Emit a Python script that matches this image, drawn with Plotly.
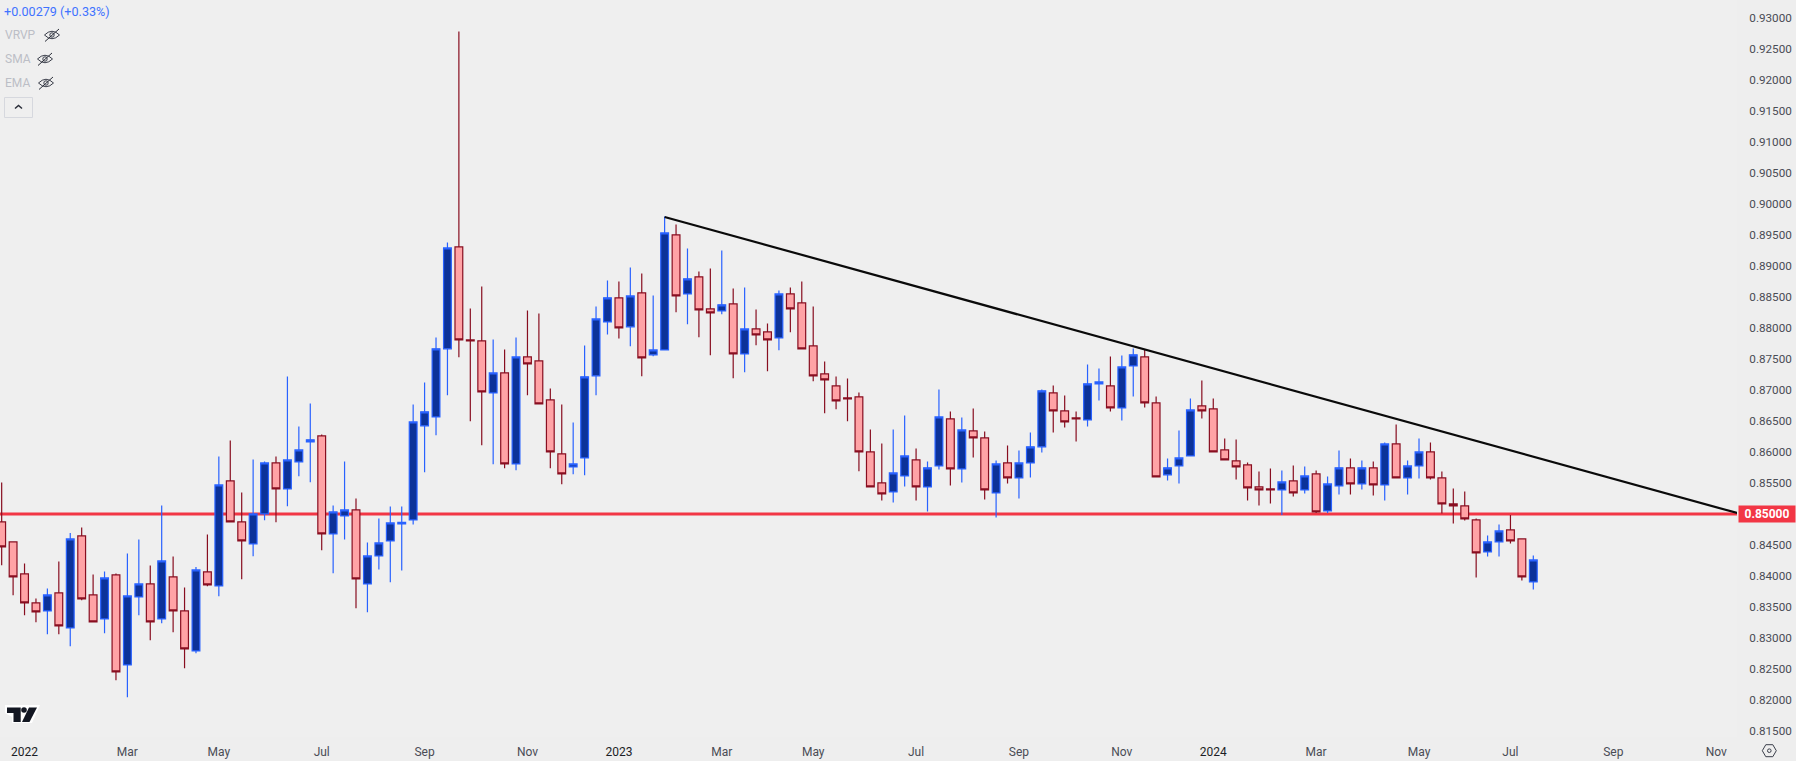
import pandas as pd
import plotly.graph_objects as go

first_date = "2021-12-20"
opens = [.84871,.84548,.84031,.83563,.83434,.83725,.8316,.84645,.83692,.83305,.84015,.82562,.8366,.8387,.83305,.83983,.83434,.82788,.84064,.83838,
.85533,.84871,.84516,.85,.85823,.85404,.85839,.86162,.86259,.84677,.84968,.85065,.8387,.84322,.84564,.84839,.84903,.86421,.86566,.87664,
.8931,.87809,.87793,.86953,.87276,.85807,.87534,.8747,.8684,.85969,.85759,.85904,.87228,.88099,.88487,.88019,.88568,.87567,.87647,.89504,
.88551,.88826,.88309,.88277,.8839,.87583,.87986,.87938,.87841,.88551,.88406,.87712,.8726,.87066,.86873,.86889,.86001,.855,.85355,.85613,
.85872,.85436,.85775,.86534,.85726,.8634,.86227,.85339,.85823,.85581,.85823,.86082,.86953,.86663,.8655,.86517,.87099,.87066,.86711,.87389,
.87534,.86792,.8563,.85775,.85936,.86743,.86695,.86033,.85856,.85791,.85436,.85404,.85387,.85533,.85387,.85646,.85048,.85452,.85743,.85484,
.85743,.85468,.8613,.85581,.85775,.86001,.85581,.85161,.85129,.84903,.84387,.84548,.84742,.84596,.83902]
highs = [.85506,.84548,.84198,.83633,.83795,.84231,.84693,.84779,.84021,.84069,.84037,.8436,.84586,.84166,.85135,.84311,.83811,.84144,.84666,.85926,
.86184,.85344,.85877,.85845,.85926,.87217,.8641,.86781,.86281,.85135,.85845,.85248,.84537,.84925,.85118,.85118,.86765,.8712,.87847,.8938,
.92786,.88315,.8867,.87814,.87653,.87847,.88282,.88234,.87023,.86765,.86474,.87717,.88347,.88767,.88751,.88977,.8888,.88525,.898,.89671,
.89283,.88912,.8896,.89251,.88638,.88654,.88299,.88073,.88605,.88654,.88751,.88347,.87459,.87217,.87185,.86959,.86361,.86135,.86361,.86587,
.86055,.85845,.87007,.86652,.86555,.867,.86329,.85861,.86103,.86022,.86313,.87007,.87072,.8691,.86652,.87411,.87346,.8754,.87556,.87669,
.87653,.86894,.85893,.86345,.86862,.87152,.86862,.86216,.862,.85829,.85683,.85732,.857,.8578,.85764,.857,.85603,.86022,.85893,.85861,
.85845,.86152,.86442,.85861,.86216,.86152,.85683,.85409,.85361,.84925,.8465,.84828,.84984,.84596,.84327]
lows = [.84171,.83687,.83364,.83251,.83057,.83057,.82864,.83606,.83257,.83074,.82315,.8204,.83364,.82961,.83235,.8309,.82509,.82751,.83832,.83671,
.84871,.83945,.84317,.84898,.84865,.85124,.85608,.85511,.84413,.84042,.84586,.83477,.83413,.84101,.83897,.84085,.84828,.85673,.8627,.86916,
.87529,.86496,.86108,.85802,.85737,.85705,.86916,.86776,.85737,.85479,.8564,.85624,.86916,.87895,.8783,.87707,.87222,.87545,.87647,.88256,
.88062,.87852,.87561,.88223,.8719,.87287,.87723,.87303,.87642,.87933,.87664,.87142,.86625,.8669,.86496,.85689,.85436,.85215,.85183,.85441,
.85215,.85038,.85716,.85457,.85506,.85909,.85231,.84941,.8549,.85248,.85587,.8599,.86313,.86394,.86168,.8641,.8683,.86652,.86507,.86894,
.86717,.85597,.85538,.8549,.85936,.86539,.86001,.85872,.85554,.85215,.85135,.85167,.84984,.8528,.85328,.85016,.85016,.85312,.85312,.85393,
.85296,.85215,.85581,.85312,.8557,.85554,.85005,.84844,.84892,.83972,.84311,.84311,.84521,.83924,.83778]
closes = [.84467,.83983,.83563,.83418,.83692,.83192,.84596,.83628,.83257,.83967,.82449,.83676,.8387,.83257,.84241,.83434,.82821,.84096,.83854,.85468,
.84871,.84564,.85,.85823,.85404,.85872,.86033,.86195,.84677,.85032,.85065,.83951,.84322,.84532,.84855,.84865,.86485,.86647,.87664,.89294,
.87809,.87793,.86969,.87276,.85807,.87534,.87421,.86776,.86001,.85646,.85807,.87212,.88148,.88487,.88003,.88519,.87518,.87647,.89536,.88519,
.88794,.88293,.88245,.88374,.87583,.87986,.8789,.87809,.88551,.88309,.87664,.87228,.87163,.86824,.86856,.86001,.85436,.85323,.85662,.85936,
.85436,.85743,.86566,.85726,.86356,.86227,.85387,.85807,.85581,.85823,.86082,.86986,.86663,.86485,.86534,.87099,.87131,.86711,.87373,.87567,
.86792,.85597,.85743,.85904,.86679,.86663,.86001,.85872,.85759,.8542,.85387,.85387,.85517,.85339,.85613,.85032,.85484,.85743,.85484,.85743,
.85468,.8613,.85581,.85775,.86001,.85581,.85161,.85129,.84919,.8437,.84548,.84726,.84564,.83983,.84257]

support_level = [0.85]
trend_dates = ["2023-01-30", "2024-11-18"]
trend_prices = [0.89793, 0.85006]

y_ticks = [0.815, 0.82, 0.825, 0.83, 0.835, 0.84, 0.845, 0.855, 0.86, 0.865, 0.87, 0.875, 0.88, 0.885,
           0.89, 0.895, 0.9, 0.905, 0.91, 0.915, 0.92, 0.925, 0.93]
y_labels = [f"{v:.5f}" for v in y_ticks]
x_ticks = ["2022-01-03", "2022-03-07", "2022-05-02", "2022-07-04", "2022-09-05", "2022-11-07",
           "2023-01-02", "2023-03-06", "2023-05-01", "2023-07-03", "2023-09-04", "2023-11-06",
           "2024-01-01", "2024-03-04", "2024-05-06", "2024-07-01", "2024-09-02", "2024-11-04"]
x_labels = ["2022", "Mar", "May", "Jul", "Sep", "Nov", "2023", "Mar", "May", "Jul", "Sep", "Nov",
            "2024", "Mar", "May", "Jul", "Sep", "Nov"]
legend_labels = ["VRVP", "SMA", "EMA"]
change_text = "+0.00279 (+0.33%)"

W, H = 1796, 761
PW, PH = 1737, 737
FONT = "Roboto"

dates = pd.date_range(first_date, periods=len(opens), freq="7D")
week = pd.Timedelta(days=7)
x0 = dates[0] - 0.146 * week
x1 = dates[0] + 151.82 * week


def px(x):
    return x / PW


def py(y):
    return 1 - y / PH


def P(cmds):
    out = []
    for c in cmds:
        out.append(c[0] + " ".join(f"{px(c[i]):.6f},{py(c[i+1]):.6f}" for i in range(1, len(c), 2)))
    return " ".join(out)


shapes = []


def add_path(cmds, fill=None, line=None, width=1):
    shapes.append(dict(type="path", xref="paper", yref="paper", layer="above", path=P(cmds),
                       fillcolor=fill or "rgba(0,0,0,0)", line=dict(color=line or "rgba(0,0,0,0)", width=width)))


def add_circle(cx, cy, r, fill=None, line=None, width=1):
    shapes.append(dict(type="circle", xref="paper", yref="paper", layer="above",
                       x0=px(cx - r), x1=px(cx + r), y0=py(cy - r), y1=py(cy + r),
                       fillcolor=fill or "rgba(0,0,0,0)", line=dict(color=line or "rgba(0,0,0,0)", width=width)))


def eye(cx, cy):
    add_path([("M", cx - 7.5, cy), ("Q", cx, cy - 7.5, cx + 7.5, cy), ("Q", cx, cy + 7.5, cx - 7.5, cy), ("Z",)],
             line="#3a3e4a", width=1)
    add_circle(cx, cy, 2.2, line="#3a3e4a", width=1)
    add_path([("M", cx - 7, cy + 6.5), ("L", cx + 7, cy - 6)], line="#2a2e39", width=1)


for ex, ey in [(52, 35), (45, 59), (46, 83)]:
    eye(ex, ey)

# collapse button
shapes.append(dict(type="rect", xref="paper", yref="paper", layer="above", x0=px(4.5), x1=px(32.5), y0=py(97.5), y1=py(117.5),
                   line=dict(color="#d6d8de", width=1), fillcolor="rgba(0,0,0,0)"))
add_path([("M", 15, 108.5), ("L", 18.5, 105.5), ("L", 22, 108.5)], line="#2a2e39", width=1.5)

# logo with white halo
add_path([("M", 5, 705), ("L", 40, 705), ("L", 32, 723), ("L", 12, 723), ("L", 12, 717), ("L", 5, 713), ("Z",)], fill="#ffffff")
add_path([("M", 7, 707.5), ("L", 20.7, 707.5), ("L", 20.7, 722), ("L", 13.5, 722), ("L", 13.5, 713), ("L", 7, 713), ("Z",)], fill="#131722")
add_circle(24, 710, 2.8, fill="#131722")
add_path([("M", 29, 707.5), ("L", 37, 707.5), ("L", 29.5, 722), ("L", 22, 722), ("Z",)], fill="#131722")

# settings hexagon
cx, cy = 1769.3, 750.7
add_path([("M", cx - 7, cy), ("L", cx - 3.5, cy - 6), ("L", cx + 3.5, cy - 6), ("L", cx + 7, cy), ("L", cx + 3.5, cy + 6),
          ("L", cx - 3.5, cy + 6), ("Z",)], line="#3a3e4a", width=1)
add_circle(cx, cy, 1.8, line="#3a3e4a", width=1)

# support level under the candles
shapes.append(dict(type="line", xref="paper", yref="y", layer="below", x0=0, x1=1,
                   y0=support_level[0], y1=support_level[0], line=dict(color="#f23645", width=3)))

annotations = [
    dict(text=change_text, xref="paper", yref="paper", x=px(3.2), y=py(11.5), xanchor="left", yanchor="middle",
         showarrow=False, borderpad=0, font=dict(family=FONT, size=12.6, color="#3f73ff")),
    dict(text=f"{support_level[0]:.5f}", xref="paper", yref="y", x=px(1738), y=support_level[0], xanchor="left", yanchor="middle",
         showarrow=False, borderpad=0, width=56, height=16, bgcolor="#f23645", align="center",
         font=dict(family=FONT, size=12, color="#ffffff", weight="bold")),
]
for label, ly in zip(legend_labels, [35, 59, 83]):
    annotations.append(dict(text=label, xref="paper", yref="paper", x=px(4), y=py(ly), xanchor="left", yanchor="middle",
                            showarrow=False, borderpad=0, font=dict(family=FONT, size=12, color="#bcbec6")))

year_style = '<span style="color:#1c1e26">{}</span>'
x_display = [year_style.format(t) if t.isdigit() else t for t in x_labels]

fig = go.Figure()
fig.add_trace(go.Candlestick(
    x=dates, open=opens, high=highs, low=lows, close=closes, whiskerwidth=0,
    increasing=dict(fillcolor="#0c3299", line=dict(color="#2962ff", width=1.2)),
    decreasing=dict(fillcolor="#ffa3a6", line=dict(color="#880e20", width=1.2)),
    hoverinfo="skip", showlegend=False))
fig.add_trace(go.Scatter(x=trend_dates, y=trend_prices, mode="lines", line=dict(color="#0a0a0a", width=2.2),
                         hoverinfo="skip", showlegend=False))

fig.update_layout(
    width=W, height=H, autosize=False, paper_bgcolor="#eeeeee", plot_bgcolor="#efefef",
    margin=dict(l=0, r=W - PW, t=0, b=H - PH), boxgap=0.32, boxgroupgap=0, showlegend=False,
    font=dict(family=FONT, size=12, color="#4a4c55"), shapes=shapes, annotations=annotations,
    xaxis=dict(type="date", range=[x0, x1], rangeslider=dict(visible=False), tickmode="array", tickvals=x_ticks, ticktext=x_display,
               showgrid=False, zeroline=False, showline=False, ticks="outside", ticklen=4, tickcolor="rgba(0,0,0,0)",
               tickangle=0, tickfont=dict(family=FONT, size=12, color="#4a4c55")),
    yaxis=dict(side="right", range=[0.81399, 0.93295], tickmode="array", tickvals=y_ticks, ticktext=y_labels,
               showgrid=False, zeroline=False, showline=False, ticks="outside", ticklen=9, tickcolor="rgba(0,0,0,0)",
               tickfont=dict(family=FONT, size=11.7, color="#4a4c55")),
)
fig.write_html("out.html", config=dict(displayModeBar=False),
               post_script="document.body.style.margin='0';document.body.style.background='#eeeeee';")
